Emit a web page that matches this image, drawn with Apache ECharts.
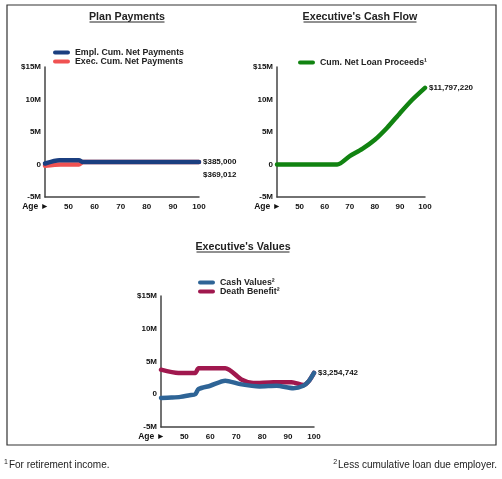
<!DOCTYPE html>
<html><head><meta charset="utf-8">
<script src="https://cdn.jsdelivr.net/npm/echarts@6/dist/echarts.min.js"></script>
<style>html,body{margin:0;padding:0;background:#fff}#c{width:502px;height:479px}</style>
</head><body><div id="c"></div>
<script>
// ---- data (values in $ millions, x = age) ----
const ageTicks = [50, 60, 70, 80, 90, 100];
const yTicks = ['-5M', '0', '5M', '10M', '$15M'];

const emplAges = [41, 46.5, 54, 55.5, 100];
const emplVals = [0.15, 0.65, 0.65, 0.385, 0.385];
const execAges = [41, 47, 54, 55.5, 100];
const execVals = [-0.2, 0.0, 0.0, 0.369012, 0.369012];

const loanAges = [41, 65, 70, 75, 80, 85, 90, 95, 100];
const loanVals = [0, 0, 1.3, 2.4, 3.8, 5.7, 7.9, 10.0, 11.79722];

const cvAges = [41, 45, 48.5, 52, 54.2, 55.5, 60, 65.8, 71.5, 79, 85.6, 92, 95.9, 98, 100];
const cvVals = [-0.57, -0.5, -0.4, -0.15, 0.0, 0.8, 1.3, 2.06, 1.55, 1.2, 1.3, 0.93, 1.3, 2.0, 3.254742];
const dbAges = [41, 47.7, 54.2, 55.5, 65.8, 72.2, 76.6, 84.3, 91.4, 96, 98, 100];
const dbVals = [3.75, 3.25, 3.25, 3.97, 3.97, 2.2, 1.7, 1.85, 1.85, 1.4, 2.0, 3.254742];

const zip = (a, b) => a.map((x, i) => [x, b[i]]);
const FONT = '"Liberation Sans", Arial, sans-serif';
const money = v => '$' + Math.round(v * 1e6).toLocaleString('en-US');

const grids = [
  {left: 45, top: 67, width: 154, height: 130, containLabel: false, outerBoundsMode: 'none'},
  {left: 277, top: 67, width: 148, height: 130, containLabel: false, outerBoundsMode: 'none'},
  {left: 161, top: 296, width: 153, height: 131, containLabel: false, outerBoundsMode: 'none'}
];

function xAxis(i) {
  return {
    gridIndex: i, type: 'value', min: 41, max: 100,
    axisLine: {onZero: false, lineStyle: {color: '#444', width: 1.5}},
    axisTick: {show: false}, splitLine: {show: false},
    axisLabel: {customValues: ageTicks, fontFamily: FONT, fontSize: 8, fontWeight: 'bold', color: '#111', margin: 6}
  };
}
function yAxis(i) {
  return {
    gridIndex: i, type: 'value', min: -5, max: 15, interval: 5,
    axisLine: {show: true, onZero: false, lineStyle: {color: '#444', width: 1.5}},
    axisTick: {show: false}, splitLine: {show: false},
    axisLabel: {fontFamily: FONT, fontSize: 8, fontWeight: 'bold', color: '#111', margin: 4, padding: [0, 0, 3, 0],
      formatter: v => yTicks[(v + 5) / 5]}
  };
}
function line(name, i, data, color, endOffset) {
  return {
    name, type: 'line', xAxisIndex: i, yAxisIndex: i, data, symbol: 'none', smooth: 0.25,
    lineStyle: {color, width: 4.5, cap: 'round', join: 'round'}, itemStyle: {color},
    endLabel: {show: endOffset !== null, formatter: p => money(p.value[1]), fontFamily: FONT, fontSize: 8,
      fontWeight: 'bold', color: '#111', distance: 4, offset: endOffset || [0, 0]},
    emphasis: {disabled: true}, silent: true, z: 2
  };
}
const legendText = {fontFamily: FONT, fontSize: 8.8, fontWeight: 'bold', color: '#222', lineHeight: 8};
const ICON = 'path://M2,0 L15,0 A2,2 0 0 1 15,4 L2,4 A2,2 0 0 1 2,0 Z';
function legend(left, top, data) {
  return {left, top, orient: 'vertical', itemGap: 0, padding: 0, itemWidth: 17, itemHeight: 5,
    icon: ICON, textStyle: legendText, data, selectedMode: false};
}
function title(cx, cy, text, w) {
  return [
    {type: 'text', x: cx, y: cy, style: {text, font: 'bold 10.7px ' + FONT, fill: '#222', align: 'center', verticalAlign: 'middle'}},
    {type: 'line', shape: {x1: cx - w / 2, y1: cy + 5, x2: cx + w / 2, y2: cy + 5}, style: {stroke: '#222', lineWidth: 1}}
  ];
}
function ageName(g) {
  return {type: 'text', x: g.left + 4, y: g.top + g.height + 10,
    style: {text: 'Age \u25BA', font: 'bold 8.5px ' + FONT, fill: '#111', align: 'right', verticalAlign: 'middle'}};
}

const chart = echarts.init(document.getElementById('c'), null, {renderer: 'canvas'});
chart.setOption({
  animation: false,
  grid: grids,
  xAxis: [xAxis(0), xAxis(1), xAxis(2)],
  yAxis: [yAxis(0), yAxis(1), yAxis(2)],
  legend: [
    legend(53, 48, ['Empl. Cum. Net Payments', 'Exec. Cum. Net Payments']),
    legend(298, 58, ['Cum. Net Loan Proceeds\u00B9']),
    legend(198, 278, ['Cash Values\u00B2', 'Death Benefit\u00B2'])
  ],
  series: [
    line('Exec. Cum. Net Payments', 0, zip(execAges, execVals), '#F05252', [0, 13]),
    line('Empl. Cum. Net Payments', 0, zip(emplAges, emplVals), '#1B3F80', [0, 0]),
    line('Cum. Net Loan Proceeds\u00B9', 1, zip(loanAges, loanVals), '#118311', [0, 0]),
    line('Death Benefit\u00B2', 2, zip(dbAges, dbVals), '#A0184E', null),
    line('Cash Values\u00B2', 2, zip(cvAges, cvVals), '#2E6496', [0, 0])
  ],
  graphic: [
    {type: 'rect', shape: {x: 7, y: 5, width: 489, height: 440}, style: {fill: 'none', stroke: '#333', lineWidth: 1.2}, z: -1},
    ...title(127, 17, 'Plan Payments', 75),
    ...title(360, 17, "Executive's Cash Flow", 113),
    ...title(243, 247, "Executive's Values", 93),
    ...grids.map(ageName),
    {type: 'text', left: 4, top: 459, style: {text: '{s|1}For retirement income.', font: '10px ' + FONT, fill: '#222',
      rich: {s: {fontSize: 7, verticalAlign: 'top', fill: '#222', padding: [0, 1, 6, 0]}}}},
    {type: 'text', right: 5, top: 459, style: {text: '{s|2}Less cumulative loan due employer.', font: '10px ' + FONT, fill: '#222',
      rich: {s: {fontSize: 7, verticalAlign: 'top', fill: '#222', padding: [0, 1, 6, 0]}}}}
  ]
});
</script></body></html>
